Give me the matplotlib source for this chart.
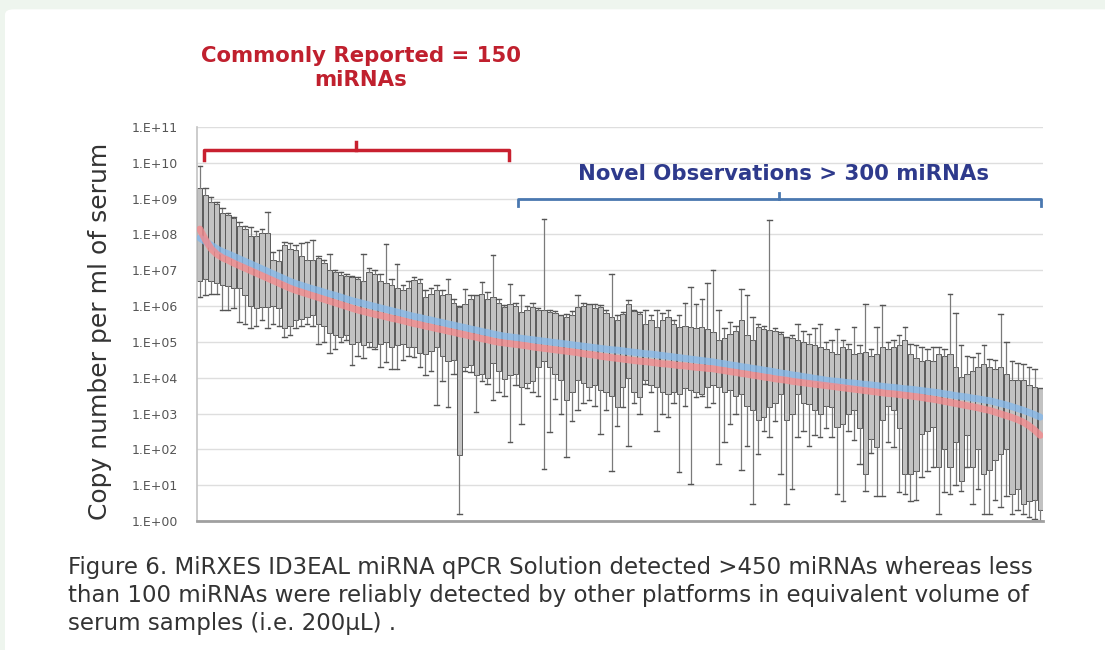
import numpy as np
import matplotlib
matplotlib.use("Agg")
import matplotlib.pyplot as plt
from matplotlib.ticker import FuncFormatter, NullLocator
from matplotlib.patches import FancyBboxPatch

# log10 copy numbers per miRNA (sorted by abundance)
whisker_lo = [
    6.25, 6.30, 6.35, 6.35, 5.90, 5.90, 5.95, 5.55, 5.50, 5.40,
    5.45, 5.60, 5.40, 5.50, 5.45, 5.14, 5.20, 5.40, 5.45, 5.50,
    5.45, 4.95, 5.00, 4.70, 4.80, 5.00, 5.05, 4.35, 4.60, 4.55,
    4.85, 4.80, 4.30, 4.45, 4.25, 4.25, 4.50, 4.60,
    4.58, 4.30, 4.07, 4.20, 3.23, 3.90, 3.18, 4.10, 0.20, 4.20,
    4.15, 3.04, 3.90, 3.83, 3.37, 3.60, 3.50, 2.20, 3.80, 2.71,
    3.70, 3.60, 3.50, 1.46, 2.48, 3.40, 3.00, 1.78, 2.80, 3.09,
    3.30, 3.37, 3.20, 2.44, 3.10, 1.40, 2.65,
    3.18, 2.10, 3.30, 3.00, 3.83, 3.60, 2.52, 3.00, 2.90, 3.30,
    1.37, 3.20, 1.04, 3.46, 3.50, 3.18, 3.30, 1.60, 2.20, 2.71,
    3.00, 1.41, 2.10, 0.48, 1.88, 2.50, 2.34, 2.80, 1.32, 0.48,
    0.90, 2.34, 2.50, 2.10, 2.40, 2.34, 2.60,
    2.34, 0.76, 0.57, 2.50, 2.25, 1.60, 0.85, 1.90, 0.70, 0.70,
    2.20, 2.06, 0.80, 0.76, 0.57, 0.60, 1.22, 1.40, 1.50, 0.20,
    0.80, 0.76, 1.00, 0.85, 1.50, 0.48, 0.90, 0.20, 0.20, 0.60,
    0.38, 0.70, 0.20, 0.30, 0.20, 0.10, 0.05, 0.00]

box_q1 = [
    6.70, 6.75, 6.70, 6.65, 6.60, 6.55, 6.50, 6.50, 6.30, 6.00,
    5.95, 5.97, 5.97, 6.00, 5.95, 5.40, 5.45, 5.60, 5.65, 5.70,
    5.75, 5.50, 5.45, 5.25, 5.20, 5.15, 5.20, 4.95, 5.00, 4.90,
    5.00, 4.86, 4.95, 5.00, 4.86, 4.90, 4.95, 4.85,
    4.86, 4.70, 4.65, 4.75, 4.86, 4.60, 4.48, 4.50, 1.83, 4.30,
    4.35, 4.07, 4.10, 4.00, 4.40, 4.20, 3.97, 4.07, 4.10, 3.74,
    3.85, 3.90, 4.30, 4.48, 4.30, 4.10, 3.93, 3.37, 3.60, 3.93,
    3.85, 3.74, 3.80, 3.65, 3.60, 3.50, 3.18,
    3.74, 4.00, 3.60, 3.46, 3.93, 3.80, 3.74, 3.60, 3.55, 3.60,
    3.55, 3.70, 3.65, 3.60, 3.55, 3.74, 3.80, 3.74, 3.60, 3.65,
    3.50, 3.55, 3.20, 3.09, 2.81, 2.90, 3.18, 3.30, 3.55, 2.81,
    3.00, 3.55, 3.30, 3.27, 3.10, 3.00, 3.20,
    3.18, 2.62, 2.71, 3.00, 3.09, 2.60, 1.32, 2.30, 2.06, 2.81,
    3.20, 3.09, 2.60, 1.32, 1.32, 1.40, 2.44, 2.50, 2.62, 1.50,
    2.00, 1.50, 2.20, 1.13, 2.40, 1.50, 2.00, 1.32, 1.41, 1.70,
    1.88, 2.00, 0.76, 0.90, 0.48, 0.57, 0.60, 0.30]

box_q3 = [
    9.30, 9.10, 8.90, 8.85, 8.60, 8.55, 8.45, 8.25, 8.15, 7.95,
    7.95, 8.05, 8.05, 7.30, 7.25, 7.70, 7.60, 7.56, 7.40, 7.28,
    7.30, 7.35, 7.20, 7.00, 6.95, 6.86, 6.85, 6.80, 6.75, 6.70,
    6.95, 6.90, 6.70, 6.65, 6.60, 6.50, 6.45, 6.50,
    6.72, 6.65, 6.25, 6.35, 6.44, 6.30, 6.35, 6.10, 5.97, 6.07,
    6.20, 6.30, 6.35, 6.20, 6.25, 6.10, 5.97, 6.07, 6.00, 5.83,
    5.90, 5.97, 5.90, 5.88, 5.83, 5.80, 5.74, 5.70, 5.75, 5.97,
    6.00, 6.07, 5.95, 5.97, 5.80, 5.69, 5.60,
    5.79, 6.07, 5.85, 5.79, 5.51, 5.60, 5.42, 5.60, 5.69, 5.50,
    5.42, 5.45, 5.42, 5.40, 5.42, 5.35, 5.28, 5.04, 5.10, 5.23,
    5.30, 5.60, 5.20, 5.04, 5.42, 5.35, 5.32, 5.30, 5.23, 5.14,
    5.10, 5.04, 5.00, 4.95, 4.90, 4.86, 4.80,
    4.72, 4.67, 4.86, 4.80, 4.67, 4.70, 4.72, 4.60, 4.67, 4.86,
    4.80, 4.86, 4.90, 5.04, 4.67, 4.55, 4.48, 4.50, 4.48, 4.67,
    4.60, 4.67, 4.30, 4.02, 4.10, 4.20, 4.30, 4.39, 4.30, 4.25,
    4.30, 4.10, 3.93, 3.95, 3.93, 3.80, 3.74, 3.70]

whisker_hi = [
    9.90, 9.30, 9.05, 8.90, 8.75, 8.60, 8.50, 8.35, 8.25, 8.20,
    8.10, 8.15, 8.63, 7.50, 7.56, 7.80, 7.75, 7.70, 7.75, 7.80,
    7.85, 7.40, 7.30, 7.46, 7.00, 6.95, 6.90, 6.85, 6.80, 7.46,
    7.05, 7.00, 6.90, 7.74, 6.75, 7.18, 6.60, 6.70,
    6.81, 6.75, 6.45, 6.50, 6.60, 6.45, 6.77, 6.20, 6.00, 6.49,
    6.30, 6.30, 6.67, 6.40, 7.42, 6.20, 6.02, 6.63, 6.10, 6.30,
    6.00, 6.10, 5.95, 8.44, 5.90, 5.85, 5.74, 5.79, 5.85, 6.30,
    6.10, 6.07, 6.05, 6.02, 5.90, 6.90, 5.74,
    5.83, 6.16, 5.90, 5.83, 5.88, 5.75, 5.88, 5.80, 5.88, 5.60,
    5.74, 6.10, 6.53, 6.05, 6.20, 6.65, 7.00, 5.88, 5.40, 5.55,
    5.45, 6.49, 6.30, 5.69, 5.51, 5.45, 8.41, 5.40, 5.28, 5.14,
    5.20, 5.51, 5.30, 5.23, 5.40, 5.51, 5.00,
    5.04, 5.37, 5.04, 4.95, 5.42, 4.90, 6.07, 4.80, 5.42, 6.02,
    5.00, 5.04, 5.20, 5.42, 4.95, 4.90, 4.86, 4.80, 4.86, 4.86,
    4.80, 6.35, 5.80, 4.90, 4.60, 4.58, 4.70, 4.90, 4.53, 4.50,
    5.79, 5.00, 4.48, 4.40, 4.39, 4.30, 4.25, 3.70]

mean_line = [
    7.90, 7.80, 7.70, 7.60, 7.52, 7.46, 7.39, 7.32, 7.25, 7.18,
    7.11, 7.04, 6.97, 6.90, 6.83, 6.76, 6.69, 6.63, 6.58, 6.53,
    6.48, 6.44, 6.39, 6.34, 6.30, 6.25, 6.20, 6.15, 6.11, 6.07,
    6.03, 5.99, 5.95, 5.91, 5.87, 5.83, 5.79, 5.75, 5.71, 5.68,
    5.64, 5.61, 5.57, 5.54, 5.50, 5.47, 5.43, 5.40, 5.36, 5.33,
    5.29, 5.26, 5.22, 5.19, 5.16, 5.14, 5.12, 5.10, 5.08, 5.06,
    5.04, 5.02, 5.00, 4.98, 4.96, 4.94, 4.92, 4.90, 4.88, 4.86,
    4.84, 4.82, 4.80, 4.78, 4.77, 4.75, 4.73, 4.71, 4.69, 4.67,
    4.66, 4.64, 4.62, 4.60, 4.58, 4.56, 4.54, 4.52, 4.50, 4.48,
    4.46, 4.44, 4.41, 4.39, 4.36, 4.34, 4.31, 4.29, 4.26, 4.24,
    4.21, 4.19, 4.16, 4.13, 4.11, 4.08, 4.06, 4.03, 4.01, 3.98,
    3.96, 3.93, 3.91, 3.90, 3.88, 3.86, 3.85, 3.83, 3.81, 3.80,
    3.78, 3.76, 3.74, 3.73, 3.71, 3.69, 3.68, 3.66, 3.64, 3.62,
    3.60, 3.58, 3.55, 3.53, 3.50, 3.48, 3.46, 3.43, 3.41, 3.38,
    3.36, 3.32, 3.28, 3.24, 3.19, 3.14, 3.09, 3.03, 2.97, 2.90]

median_line = [
    8.15, 7.85, 7.60, 7.45, 7.35, 7.28, 7.20, 7.13, 7.06, 6.99,
    6.92, 6.85, 6.78, 6.71, 6.64, 6.57, 6.50, 6.44, 6.39, 6.34,
    6.29, 6.24, 6.19, 6.14, 6.09, 6.04, 5.99, 5.94, 5.89, 5.85,
    5.81, 5.77, 5.74, 5.70, 5.66, 5.63, 5.59, 5.55, 5.51, 5.48,
    5.44, 5.41, 5.37, 5.34, 5.30, 5.27, 5.23, 5.20, 5.16, 5.13,
    5.09, 5.06, 5.02, 4.99, 4.97, 4.95, 4.93, 4.91, 4.89, 4.86,
    4.84, 4.82, 4.80, 4.78, 4.76, 4.74, 4.72, 4.70, 4.67, 4.65,
    4.63, 4.60, 4.58, 4.56, 4.54, 4.52, 4.50, 4.48, 4.46, 4.45,
    4.43, 4.41, 4.39, 4.38, 4.36, 4.34, 4.33, 4.31, 4.29, 4.28,
    4.26, 4.25, 4.22, 4.20, 4.17, 4.15, 4.12, 4.10, 4.07, 4.05,
    4.02, 4.00, 3.97, 3.95, 3.93, 3.90, 3.88, 3.86, 3.84, 3.82,
    3.80, 3.78, 3.76, 3.74, 3.72, 3.70, 3.68, 3.66, 3.64, 3.62,
    3.60, 3.58, 3.56, 3.55, 3.53, 3.51, 3.49, 3.47, 3.45, 3.42,
    3.40, 3.37, 3.34, 3.31, 3.28, 3.25, 3.22, 3.19, 3.16, 3.12,
    3.09, 3.04, 2.99, 2.94, 2.89, 2.83, 2.76, 2.66, 2.54, 2.39]

decades = list(range(0, 12))

n = len(box_q1)
xs = np.arange(n)

fig = plt.figure(figsize=(11.05, 6.5), dpi=100)
fig.patch.set_facecolor("#eef5ee")
panel = FancyBboxPatch((5 / 1105, -0.1), 1.1, 1.1 - 10 / 650 + 0.001,
                       boxstyle="round,pad=0,rounding_size=0.008",
                       transform=fig.transFigure, facecolor="white",
                       edgecolor="none", zorder=-1)
fig.patches.append(panel)

ax = fig.add_axes([197 / 1105, 1 - 521 / 650, 846 / 1105, 394 / 650])
ax.set_facecolor("white")

stats = []
for i in range(n):
    stats.append(dict(whislo=10 ** whisker_lo[i], q1=10 ** box_q1[i],
                      med=10 ** median_line[i], q3=10 ** box_q3[i],
                      whishi=10 ** whisker_hi[i]))

ax.bxp(stats, positions=xs, widths=0.95, capwidths=0.8, patch_artist=True,
       showfliers=False, manage_ticks=False,
       boxprops=dict(facecolor="#c2c2c2", edgecolor="#5a5a5a", linewidth=0.7),
       whiskerprops=dict(color="#7a7a7a", linewidth=0.9),
       capprops=dict(color="#555555", linewidth=1.0),
       medianprops=dict(linewidth=0))

ax.plot(xs, 10 ** np.array(mean_line), color="#86b9ea", lw=5, alpha=0.8,
        solid_capstyle="round", zorder=4)
ax.plot(xs, 10 ** np.array(median_line), color="#f38b8e", lw=5, alpha=0.8,
        solid_capstyle="round", zorder=4)

ax.set_yscale("log")
ax.set_ylim(1, 1e11)
ax.set_xlim(-0.5, n - 0.5)
ax.set_yticks([10.0 ** k for k in decades])
ax.yaxis.set_minor_locator(NullLocator())
ax.yaxis.set_major_formatter(FuncFormatter(lambda v, p: "1.E+%02d" % round(np.log10(v))))
ax.set_xticks([])
ax.tick_params(axis="y", length=0, pad=14, labelsize=9, labelcolor="#555555")
ax.grid(axis="y", color="#dedede", lw=1)
ax.set_axisbelow(True)
for s in ["top", "right"]:
    ax.spines[s].set_visible(False)
ax.spines["left"].set_color("#c4c4c4")
ax.spines["left"].set_linewidth(1.2)
ax.spines["bottom"].set_color("#a0a0a0")
ax.spines["bottom"].set_linewidth(2)

# brackets
ax.plot([0.74, 0.74, 54.8, 54.8], [10 ** 10.08, 10 ** 10.36, 10 ** 10.36, 10 ** 10.08],
        color="#c8202f", lw=2.5, clip_on=False, zorder=5)
ax.plot([27.7, 27.7], [10 ** 10.36, 10 ** 10.58], color="#c8202f", lw=2.5,
        clip_on=False, zorder=5)
ax.plot([56.4, 56.4, 149.1, 149.1], [10 ** 8.79, 10 ** 8.99, 10 ** 8.99, 10 ** 8.79],
        color="#4a78b0", lw=2, clip_on=False, zorder=5)
ax.plot([102.7, 102.7], [10 ** 8.99, 10 ** 9.16], color="#4a78b0", lw=2,
        clip_on=False, zorder=5)

fig.text(361 / 1105, 1 - 68 / 650, "Commonly Reported = 150\nmiRNAs",
         ha="center", va="center", color="#c0202e", fontsize=15.3,
         fontweight="bold", linespacing=1.25)
fig.text(783 / 1105, 1 - 174 / 650, "Novel Observations > 300 miRNAs",
         ha="center", va="center", color="#2e3a8c", fontsize=15.3,
         fontweight="bold")

fig.text(100 / 1105, 1 - 331 / 650, "Copy number per ml of serum",
         rotation=90, ha="center", va="center", color="#333333", fontsize=18)

caption = ("Figure 6. MiRXES ID3EAL miRNA qPCR Solution detected >450 miRNAs whereas less\n"
           "than 100 miRNAs were reliably detected by other platforms in equivalent volume of\n"
           "serum samples (i.e. 200µL) .")
fig.text(68 / 1105, 1 - 556 / 650, caption, ha="left", va="top",
         color="#333333", fontsize=16.5, linespacing=1.29)

fig.savefig("out.png", dpi=100, facecolor=fig.get_facecolor())
